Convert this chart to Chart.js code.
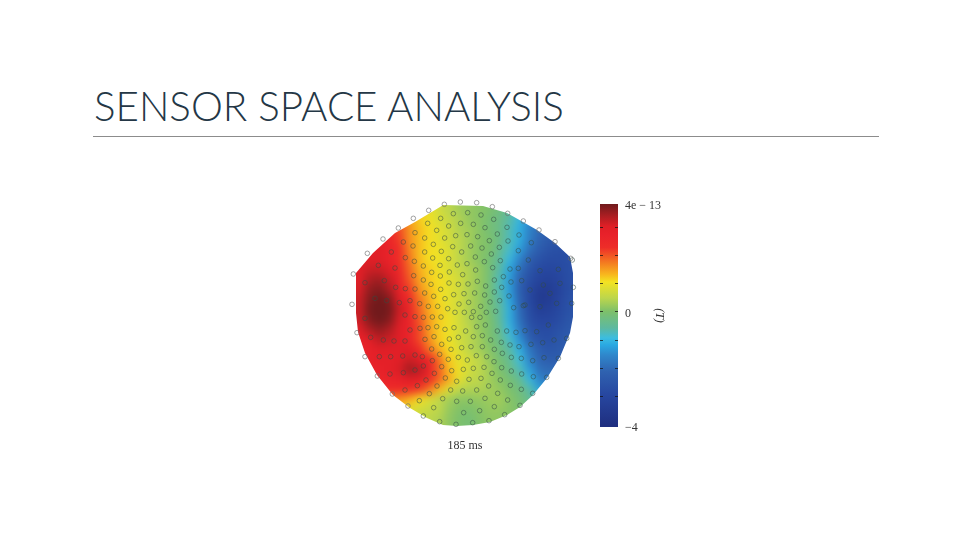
<!DOCTYPE html>
<html><head><meta charset="utf-8">
<script src="https://cdn.jsdelivr.net/npm/chart.js@4/dist/chart.umd.min.js"></script>
<style>
html,body{margin:0;padding:0;background:#fff;width:960px;height:540px;overflow:hidden}
#title{position:absolute;left:94px;top:80px;font:300 40.3px Lato,sans-serif;color:#243746;white-space:nowrap;line-height:52px}
#rule{position:absolute;left:93px;top:136px;width:786px;height:1px;background:#8c8c8c}
#mapBox{position:absolute;left:340px;top:190px;width:250px;height:265px}
#barBox{position:absolute;left:600px;top:200px;width:66px;height:232px}
</style></head><body>
<div id="title">SENSOR SPACE ANALYSIS</div>
<div id="rule"></div>
<div id="mapBox"><canvas id="map"></canvas></div>
<div id="barBox"><canvas id="bar"></canvas></div>
<script>
const titleText = "185 ms";
const colorbarUnit = "(T)";
const colorbarTicks = [-4.05,-3,-2,-1,0,1,2,3,3.85];
const colorbarTickLabels = {"-4.05":"\u22124","0":"0","3.85":"4e \u2212 13"};
const colorStopValues = [3.85,3.45,3.05,2.76,2.3,1.75,1.33,1.07,0.5,0.02,-0.57,-0.93,-1.17,-1.52,-2.12,-2.95,-4.05];
const colorStopHex = ["#6f1a1c","#a81e22","#e01f26","#e8212a","#ee2d28","#f47c20","#f8b81e","#f3e322","#bdd64c","#7dc06a","#5db9a0","#3cbde0","#2aa9e2","#2f88cc","#2f62b0","#2747a0","#1f2f80"];
const gridX = [60,90,120,150,180,210,240,270,300,330,360,390,420,450,480,510,540,570,600,630,660,690];
const gridY = [60,90,120,150,180,210,240,270,300,330,360,390,420,450,480,510,540,570,600,630,660,690];
const fieldValues = [
[2.6,2.5,2.3,2,1.8,1.5,1.3,1,.7,.5,.3,.2,.1,0,-.2,-.5,-.9,-1.4,-1.8,-2,-2.2,-2.3],
[2.7,2.6,2.5,2.2,1.9,1.5,1.2,1,.8,.6,.4,.2,.1,-.1,-.3,-.6,-1,-1.5,-1.9,-2.1,-2.3,-2.4],
[2.8,2.8,2.7,2.5,2.1,1.6,1.3,1.1,.9,.7,.4,.3,.1,-.1,-.3,-.7,-1.1,-1.6,-2,-2.2,-2.4,-2.5],
[2.9,2.9,2.8,2.6,2.2,1.6,1.3,1.1,.9,.7,.5,.3,.1,0,-.3,-.7,-1.1,-1.7,-2.1,-2.4,-2.5,-2.6],
[3,3,3,2.7,2.3,1.7,1.3,1.1,1,.8,.5,.3,.1,0,-.4,-.8,-1.3,-1.9,-2.3,-2.6,-2.7,-2.7],
[3,3,3,2.7,2.3,1.8,1.3,1.1,1,.8,.5,.3,.1,-.1,-.5,-1,-1.6,-2.2,-2.6,-2.8,-2.8,-2.7],
[3,3.2,3.2,3,2.5,1.9,1.4,1.2,1,.8,.6,.4,.2,-.1,-.6,-1.2,-1.9,-2.5,-2.9,-3,-2.9,-2.7],
[3,3.4,3.5,3.2,2.7,2,1.5,1.2,1.1,.9,.7,.4,.2,-.1,-.7,-1.3,-2.1,-2.7,-3.1,-3.2,-3,-2.7],
[3.1,3.6,3.7,3.4,2.8,2.2,1.6,1.3,1.1,.9,.7,.4,.2,-.1,-.7,-1.3,-2.2,-2.9,-3.4,-3.4,-3.1,-2.7],
[3.2,3.7,3.9,3.7,3,2.5,1.8,1.4,1.1,.9,.7,.4,.2,-.1,-.6,-1.2,-2.1,-2.9,-3.5,-3.4,-3,-2.6],
[3.2,3.8,4,3.8,3.2,2.6,1.9,1.4,1.2,.9,.7,.4,.2,-.1,-.5,-1.1,-2,-2.8,-3.3,-3.2,-2.9,-2.6],
[3.2,3.7,4,3.7,3.1,2.7,2,1.5,1.2,1,.7,.4,.2,0,-.5,-1.1,-1.9,-2.7,-3,-3,-2.8,-2.5],
[3,3.4,3.6,3.4,3,2.7,2.1,1.5,1.2,1,.7,.5,.2,0,-.4,-1,-1.7,-2.5,-2.8,-2.8,-2.6,-2.4],
[2.8,3,3.3,3.2,3,2.7,2.1,1.6,1.2,1,.7,.5,.3,0,-.3,-.8,-1.4,-2.2,-2.6,-2.7,-2.5,-2.3],
[2.7,2.8,3,3,3,3,2.4,1.8,1.4,1.1,.8,.5,.3,.1,-.2,-.6,-1.1,-1.8,-2.3,-2.5,-2.4,-2.2],
[2.6,2.8,2.9,2.9,3,3.2,3,2.6,1.8,1.2,.9,.7,.5,.2,-.1,-.4,-.9,-1.6,-2.1,-2.3,-2.3,-2.1],
[2.5,2.7,2.8,2.9,3.1,3.5,3.3,2.7,1.9,1.3,1,.7,.5,.3,0,-.3,-.7,-1.3,-1.9,-2,-2,-2],
[2.4,2.5,2.6,2.7,2.8,3,3,2.4,1.9,1.4,.9,.6,.5,.3,.1,-.1,-.4,-1,-1.6,-1.8,-1.9,-1.9],
[2,2.2,2.3,2.4,2.4,2.4,2.2,1.8,1.3,.8,.5,.4,.4,.3,.2,0,-.2,-.6,-1.2,-1.5,-1.6,-1.6],
[1.5,1.6,1.7,1.7,1.6,1.4,1.1,.8,.5,.3,.15,.15,.2,.25,.3,.1,-.1,-.4,-.8,-1,-1.1,-1.2],
[1,1.1,1.2,1.2,1.1,.9,.7,.6,.5,.2,.05,0,.1,.2,.2,.1,0,-.2,-.4,-.6,-.7,-.8],
[.7,.8,.9,.9,.8,.7,.6,.5,.4,.15,0,-.1,.05,.15,.15,.1,0,-.1,-.2,-.4,-.5,-.6]
];
const headOutline = [[309,45],[429,48],[501,69],[549,96],[591,120],[645,159],[690,201],[699,249],[699,381],[690,429],[660,501],[621,564],[579,615],[540,651],[501,675],[450,696],[399,705],[351,708],[309,705],[261,684],[210,654],[159,615],[111,555],[75,489],[54,426],[48,369],[48,249],[99,189],[165,129],[225,96],[300,51]];
const outerSensors = [[313,43],[361,36],[410,38],[457,50],[503,70],[550,93],[597,120],[645,155],[692,205],[266,61],[220,85],[175,114],[129,147],[82,190],[40,252],[36,343],[51,428],[75,500],[112,558],[157,612],[204,648]];
const innerSensors = [[250,678],[299,695],[348,703],[398,698],[447,692],[494,674],[540,646],[578,610],[620,562],[655,505],[680,445],
[340,71],[383,68],[423,75],[461,88],[501,112],[537,135],[574,158],[302,85],[263,100],[225,128],[190,156],[154,186],
[326,108],[362,100],[400,103],[435,113],[472,132],[504,153],[535,182],[290,121],[254,144],[219,168],
[347,137],[381,134],[413,140],[448,152],[478,172],[314,144],[280,163],[254,186],[196,203],[223,214],[338,170],[304,184],[392,168],[426,174],[454,192],[481,212],[510,237],[535,235],[365,186],[278,204],[250,228],[326,206],[406,201],[433,215],[381,221],[352,225],[300,226],[275,247],[221,257],[458,233],[407,240],[328,246],[368,254],[301,258],[490,260],[513,276],[463,270],[412,274],[384,282],[355,283],[327,279],[250,270],[273,283],[196,296],[225,297],[302,298],[485,292],[437,288],[463,306],[507,318],[434,315],[404,309],[372,311],[341,314],[254,309],[281,319],[315,326],[210,332],[239,341],[265,349],[293,349],[323,356],[357,342],[386,337],[422,349],[450,336],[479,332],[521,353],[550,347],[345,367],[373,367],[400,365],[439,367],[467,364],[225,380],[250,382],[277,381],[303,381],[395,382],[420,382],
[115,226],[165,234],[75,278],[133,272],[167,292],[105,325],[140,332],[178,338],[75,385],[195,375],[565,210],[600,242],[655,238],[697,210],[545,272],[610,285],[660,280],[700,292],[555,345],[600,350],[650,340],[695,340],[570,300],[630,310],
[92,442],[130,450],[162,453],[195,453],[210,420],[240,415],[264,413],[290,410],[315,418],[342,413],[377,423],[410,410],[436,405],[472,423],[500,423],[528,427],[555,422],[590,425],[625,405],[255,448],[282,440],[328,447],[355,442],[400,440],[427,437],[452,450],[484,457],[510,465],[537,470],[573,463],[608,458],[642,450],
[305,463],[275,477],[333,478],[365,473],[393,470],[427,470],[463,478],[487,490],[514,502],[544,505],[578,512],[612,503],
[118,500],[152,500],[188,498],[225,495],[247,500],[299,493],[325,508],[355,502],[382,510],[409,497],[440,500],[277,512],[305,530],[335,542],[370,538],[400,535],[432,532],[462,515],[485,533],[514,543],[545,552],[580,560],
[225,540],[150,552],[190,548],[250,528],[283,550],[316,564],[350,574],[387,568],[423,565],[456,550],[481,570],[511,586],[544,598],
[195,600],[258,570],[232,587],[268,611],[291,588],[332,600],[368,603],[410,600],[446,588],[473,610],[503,630],[238,632],[308,626],[350,634],[391,634],[435,625],[281,653],[371,668],[419,662],[463,650]];

function hexToRgb(h){return [1,3,5].map(i=>parseInt(h.slice(i,i+2),16));}
function colorFor(v){
  if(v>=colorStopValues[0]) return colorStopHex[0];
  for(let i=1;i<colorStopValues.length;i++){
    if(v>=colorStopValues[i]){
      const t=(v-colorStopValues[i])/(colorStopValues[i-1]-colorStopValues[i]);
      const a=hexToRgb(colorStopHex[i]),b=hexToRgb(colorStopHex[i-1]);
      return `rgb(${a.map((c,k)=>Math.round(c+(b[k]-c)*t)).join(",")})`;
    }
  }
  return colorStopHex[colorStopHex.length-1];
}
const toPts = a => a.map(p=>({x:p[0],y:p[1]}));
const fieldPts = [];
/* cells past the border repeat the edge reading, so the smoothing does not fade at the rim */
const cellStep = gridX[1]-gridX[0];
const lastCol = gridX.length-1, lastRow = gridY.length-1;
for(let r=-2;r<=lastRow+2;r++){
  for(let c=-2;c<=lastCol+2;c++){
    const rr=Math.min(lastRow,Math.max(0,r)), cc=Math.min(lastCol,Math.max(0,c));
    fieldPts.push({x:gridX[0]+c*cellStep,y:gridY[0]+r*cellStep,v:fieldValues[rr][cc]});
  }
}

const softClip = {
  id:"softClip",
  afterDatasetDraw(chart,args){
    if(args.index!==0) return;
    const {ctx,chartArea:a,canvas,scales:{x,y}}=chart;
    const w=a.right-a.left,h=a.bottom-a.top;
    const off=document.createElement("canvas");
    off.width=w;off.height=h;
    off.getContext("2d").drawImage(canvas,a.left,a.top,w,h,0,0,w,h);
    ctx.save();
    ctx.clearRect(a.left,a.top,w,h);
    ctx.beginPath();
    headOutline.forEach((p,i)=>{
      const px=x.getPixelForValue(p[0]),py=y.getPixelForValue(p[1]);
      i?ctx.lineTo(px,py):ctx.moveTo(px,py);
    });
    ctx.closePath();
    ctx.clip();
    ctx.filter="blur(4px)";
    ctx.drawImage(off,a.left,a.top);
    ctx.restore();
  }
};

new Chart(document.getElementById("map"),{
  type:"scatter",
  plugins:[softClip],
  data:{datasets:[
    {data:fieldPts,order:3,clip:0,pointStyle:"rect",pointRadius:8,borderWidth:0,
     backgroundColor:c=>colorFor(c.raw?c.raw.v:0)},
    {data:toPts(outerSensors),order:2,pointRadius:2.3,borderWidth:0.8,backgroundColor:"transparent",borderColor:"rgba(110,110,110,.8)"},
    {data:toPts(innerSensors),order:1,pointRadius:2.3,borderWidth:0.8,backgroundColor:"transparent",borderColor:"rgba(50,75,65,.65)"}
  ]},
  options:{
    responsive:true,maintainAspectRatio:false,animation:false,
    layout:{padding:0,autoPadding:false},
    plugins:{legend:{display:false},tooltip:{enabled:false}},
    scales:{
      x:{type:"linear",min:0,max:750,
         grid:{display:false},border:{display:false},ticks:{display:false},
         title:{display:true,text:titleText,color:"#333",font:{family:"'Liberation Serif',serif",size:12},padding:{top:2,bottom:2}},
         afterFit(s){s.height=20;}},
      y:{type:"linear",reverse:true,min:0,max:735,display:false}
    }
  }
});

new Chart(document.getElementById("bar"),{
  type:"bar",
  data:{labels:["field"],datasets:[{
    data:[[colorbarTicks[0]-0.05,colorbarTicks[colorbarTicks.length-1]]],
    barPercentage:1,categoryPercentage:1,borderWidth:0,
    backgroundColor(c){
      const a=c.chart.chartArea; if(!a) return "#888";
      const y=c.chart.scales.y;
      const g=c.chart.ctx.createLinearGradient(0,a.top,0,a.bottom);
      colorStopValues.forEach((v,i)=>{
        const t=(y.getPixelForValue(v)-a.top)/(a.bottom-a.top);
        g.addColorStop(Math.min(1,Math.max(0,t)),colorStopHex[i]);
      });
      return g;
    }
  }]},
  options:{
    responsive:true,maintainAspectRatio:false,animation:false,
    layout:{padding:{top:4,bottom:5,left:0,right:0},autoPadding:false},
    plugins:{legend:{display:false},tooltip:{enabled:false}},
    scales:{
      x:{display:false},
      y:{position:"right",min:-4.1,max:3.85,
         afterBuildTicks(s){s.ticks=colorbarTicks.map(value=>({value}));},
         afterFit(s){s.width=48;s.paddingTop=0;s.paddingBottom=0;},
         grid:{z:1,drawTicks:false,color:c=>(c.tick&&(c.tick.value>3||c.tick.value<-4))?"transparent":"rgba(20,20,20,.75)",lineWidth:1},
         border:{display:false,dash:[3,12]},
         ticks:{autoSkip:false,padding:7,labelOffset:2,color:"#333",font:{family:"'Liberation Serif',serif",size:12},
                callback:v=>colorbarTickLabels[String(v)]||""},
         title:{display:true,text:colorbarUnit,color:"#333",font:{family:"'Liberation Serif',serif",size:12,style:"italic"},padding:{top:0,bottom:12}}
      }
    }
  }
});
</script>
</body></html>
